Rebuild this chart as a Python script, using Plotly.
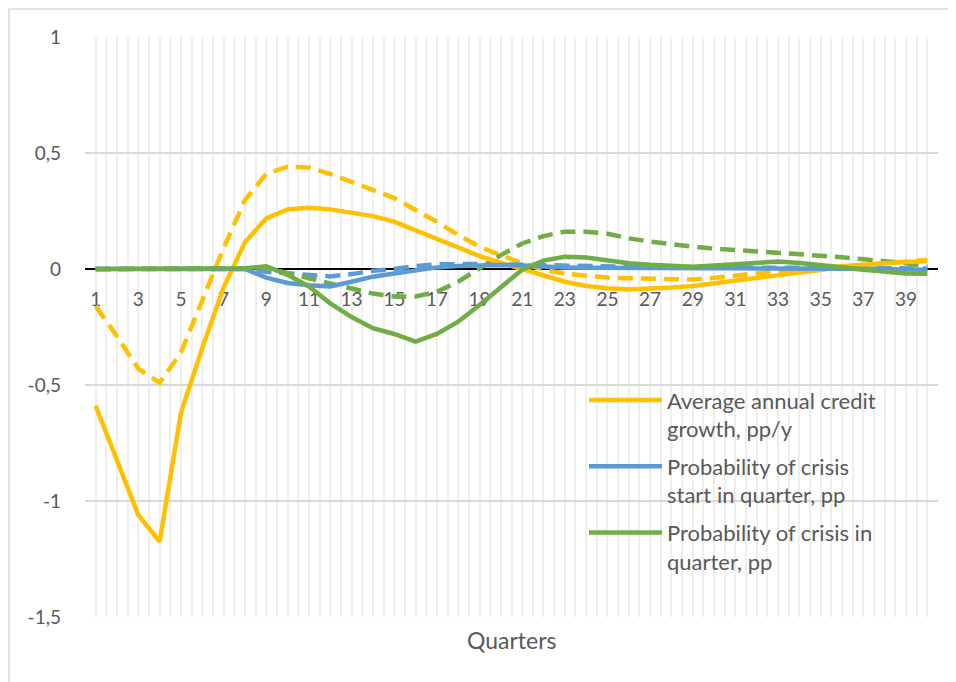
import plotly.graph_objects as go

quarters = list(range(1, 41))

credit_growth = [-0.59, -0.83, -1.06, -1.175, -0.62, -0.34, -0.08, 0.115, 0.218, 0.257,
                 0.264, 0.257, 0.243, 0.228, 0.204, 0.168, 0.132, 0.093, 0.056, 0.027,
                 0.0, -0.03, -0.055, -0.073, -0.083, -0.088, -0.085, -0.08, -0.073, -0.062,
                 -0.047, -0.036, -0.026, -0.015, -0.004, 0.012, 0.02, 0.025, 0.03, 0.033]
credit_growth_alt = [-0.16, -0.29, -0.43, -0.49, -0.36, -0.13, 0.09, 0.297, 0.41, 0.441,
                     0.437, 0.41, 0.376, 0.345, 0.306, 0.254, 0.204, 0.147, 0.096, 0.06,
                     0.024, -0.003, -0.02, -0.029, -0.037, -0.04, -0.043, -0.045, -0.045, -0.038,
                     -0.029, -0.02, -0.01, 0.0, 0.003, 0.01, 0.02, 0.025, 0.033, 0.039]
crisis_start = [0, 0, 0, 0, 0, 0, 0, 0, -0.037, -0.06,
                -0.07, -0.075, -0.055, -0.033, -0.019, -0.004, 0.007, 0.013, 0.017, 0.017,
                0.015, 0.01, 0.007, 0.005, 0.004, 0.003, 0.003, 0.003, 0.003, 0.003,
                0.003, 0.003, 0.003, 0.003, 0.002, 0.002, 0.001, 0.0, -0.002, -0.003]
crisis_start_alt = [0, 0, 0, 0, 0, 0, 0, 0, -0.012, -0.02,
                    -0.028, -0.032, -0.022, -0.008, 0.0, 0.013, 0.02, 0.022, 0.022, 0.02,
                    0.018, 0.017, 0.013, 0.01, 0.01, 0.009, 0.008, 0.007, 0.006, 0.006,
                    0.006, 0.005, 0.005, 0.005, 0.005, 0.005, 0.004, 0.004, 0.003, 0.002]
crisis_in_quarter = [0, 0, 0, 0, 0, 0, 0, 0.003, 0.012, -0.025,
                     -0.075, -0.148, -0.207, -0.255, -0.28, -0.313, -0.28, -0.227, -0.155, -0.076,
                     -0.003, 0.036, 0.053, 0.05, 0.036, 0.025, 0.018, 0.013, 0.01, 0.015,
                     0.022, 0.028, 0.032, 0.026, 0.018, 0.008, -0.003, -0.012, -0.019, -0.02]
crisis_in_quarter_alt = [0, 0, 0, 0, 0, 0, 0, 0.003, 0.005, -0.019,
                         -0.04, -0.062, -0.083, -0.106, -0.118, -0.118, -0.098, -0.055, 0.003, 0.06,
                         0.11, 0.142, 0.161, 0.161, 0.152, 0.132, 0.118, 0.105, 0.096, 0.088,
                         0.082, 0.077, 0.072, 0.066, 0.06, 0.051, 0.042, 0.033, 0.025, 0.01]

series_names = ["Average annual credit<br>growth, pp/y",
                "Probability of crisis<br>start in quarter, pp",
                "Probability of crisis in<br>quarter, pp"]
colors = ["#FFC000", "#5B9BD5", "#70AD47"]

y_ticks = [1, 0.5, 0, -0.5, -1, -1.5]
y_ticklabels = ["1", "0,5", "0", "-0,5", "-1", "-1,5"]
x_ticks = list(range(1, 41, 2))

FONT = "Lato"
TEXT = "#595959"

fig = go.Figure()

solid = [credit_growth, crisis_start, crisis_in_quarter]
dashed = [credit_growth_alt, crisis_start_alt, crisis_in_quarter_alt]

# dashed lines first, no legend entries
for vals, col in zip(dashed, colors):
    fig.add_trace(go.Scatter(
        x=quarters, y=vals, mode="lines", showlegend=False,
        line=dict(color=col, width=4.5, dash="15px,8px"),
        hoverinfo="skip"
    ))

for i, (vals, col, name) in enumerate(zip(solid, colors, series_names)):
    fig.add_trace(go.Scatter(
        x=quarters, y=vals, mode="lines", name=name,
        legendgroup=f"g{i}",
        line=dict(color=col, width=4.5)
    ))

# page body adds 8px offset, so the figure is 948x674
fig.update_layout(
    width=948, height=674,
    margin=dict(l=77, r=18, t=29, b=65),
    paper_bgcolor="white",
    plot_bgcolor="white",
    font=dict(family=FONT, color=TEXT),
    showlegend=True,
    legend=dict(
        x=0.585, y=0.41, xanchor="left", yanchor="top",
        font=dict(size=22, color=TEXT),
        bgcolor="rgba(0,0,0,0)",
        itemwidth=73,
        tracegroupgap=6,
        valign="top",
    ),
    xaxis=dict(
        range=[0.5, 40.5],
        tickmode="array", tickvals=x_ticks, ticktext=[str(v) for v in x_ticks],
        tickfont=dict(size=19, color=TEXT),
        showgrid=True, gridcolor="#eeeeee", gridwidth=1.5,
        minor=dict(tick0=0.5, dtick=0.5, showgrid=True, gridcolor="#eeeeee", gridwidth=1.5),
        anchor="free", position=0.6,
        showline=True, linecolor="black", linewidth=1.5,
        ticks="", ticklabelstandoff=13,
        zeroline=False,
        layer="below traces",
    ),
    yaxis=dict(
        range=[-1.5, 1],
        tickmode="array", tickvals=y_ticks, ticktext=y_ticklabels,
        tickfont=dict(size=19, color=TEXT),
        showgrid=True, gridcolor="#d9d9d9", gridwidth=1.5,
        zeroline=False, showline=False,
        ticks="", ticklabelstandoff=23,
    ),
    annotations=[dict(
        text="Quarters", x=0.5, y=-0.04, xref="paper", yref="paper",
        xanchor="center", yanchor="middle", showarrow=False,
        font=dict(size=23, color=TEXT)
    )],
    shapes=[dict(
        type="rect", xref="paper", yref="paper",
        x0=-76 / 853, x1=1.05, y0=-0.15, y1=1 + 28 / 580,
        line=dict(color="#d9d9d9", width=1.5), fillcolor="rgba(0,0,0,0)",
        layer="below"
    )],
)

fig.write_html("out.html")
